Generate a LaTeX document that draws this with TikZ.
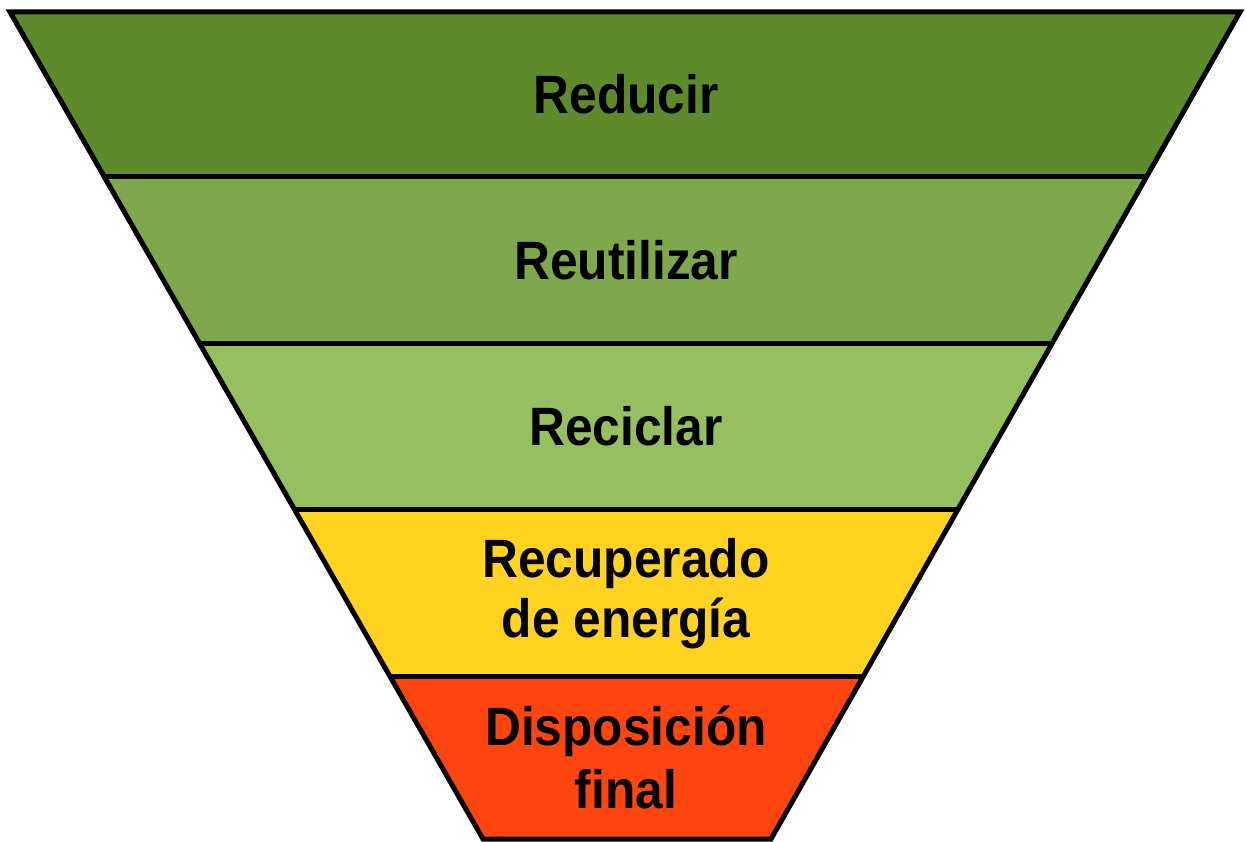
\documentclass[tikz,border=0pt]{standalone}
\usepackage{fontspec}
\newfontfamily\lab[FakeStretch=0.92]{Liberation Sans}
\definecolor{gA}{RGB}{95,138,43}
\definecolor{gB}{RGB}{126,168,75}
\definecolor{gC}{RGB}{150,191,95}
\definecolor{yA}{RGB}{255,211,32}
\definecolor{rA}{RGB}{255,69,15}
\tikzset{
  band/.style={draw=black, line width=5pt, line join=miter},
  lbl/.style={font=\lab\bfseries\fontsize{54}{62}\selectfont, text=black, anchor=base, inner sep=0pt}
}
\begin{document}
\begin{tikzpicture}[x=1pt,y=-1pt]
\useasboundingbox (0,0) rectangle (1246,842);
\coordinate (l0) at (10,12);    \coordinate (r0) at (1240,12);
\coordinate (l1) at (104.4,177); \coordinate (r1) at (1146.8,177);
\coordinate (l2) at (199.3,343); \coordinate (r2) at (1053.1,343);
\coordinate (l3) at (294.3,509); \coordinate (r3) at (959.3,509);
\coordinate (l4) at (389.8,676); \coordinate (r4) at (865.0,676);
\coordinate (l5) at (483,839);   \coordinate (r5) at (771,839);
\fill[gA] (l0) -- (r0) -- (r1) -- (l1) -- cycle;
\fill[gB] (l1) -- (r1) -- (r2) -- (l2) -- cycle;
\fill[gC] (l2) -- (r2) -- (r3) -- (l3) -- cycle;
\fill[yA] (l3) -- (r3) -- (r4) -- (l4) -- cycle;
\fill[rA] (l4) -- (r4) -- (r5) -- (l5) -- cycle;
\draw[band] (l0) -- (r0) -- (r5) -- (l5) -- cycle;
\draw[band] (l1) -- (r1);
\draw[band] (l2) -- (r2);
\draw[band] (l3) -- (r3);
\draw[band] (l4) -- (r4);
\node[lbl] (t1) at (626,114) {Reducir};
\node[lbl] (t2) at (626,279) {Reutilizar};
\node[lbl] (t3) at (626,445) {Reciclar};
\node[lbl] (t4a) at (626,577) {Recuperado};
\node[lbl] (t4b) at (626,637) {de energía};
\node[lbl] (t5a) at (626,745) {Disposición};
\node[lbl] (t5b) at (626,808) {final};
\end{tikzpicture}
\end{document}
